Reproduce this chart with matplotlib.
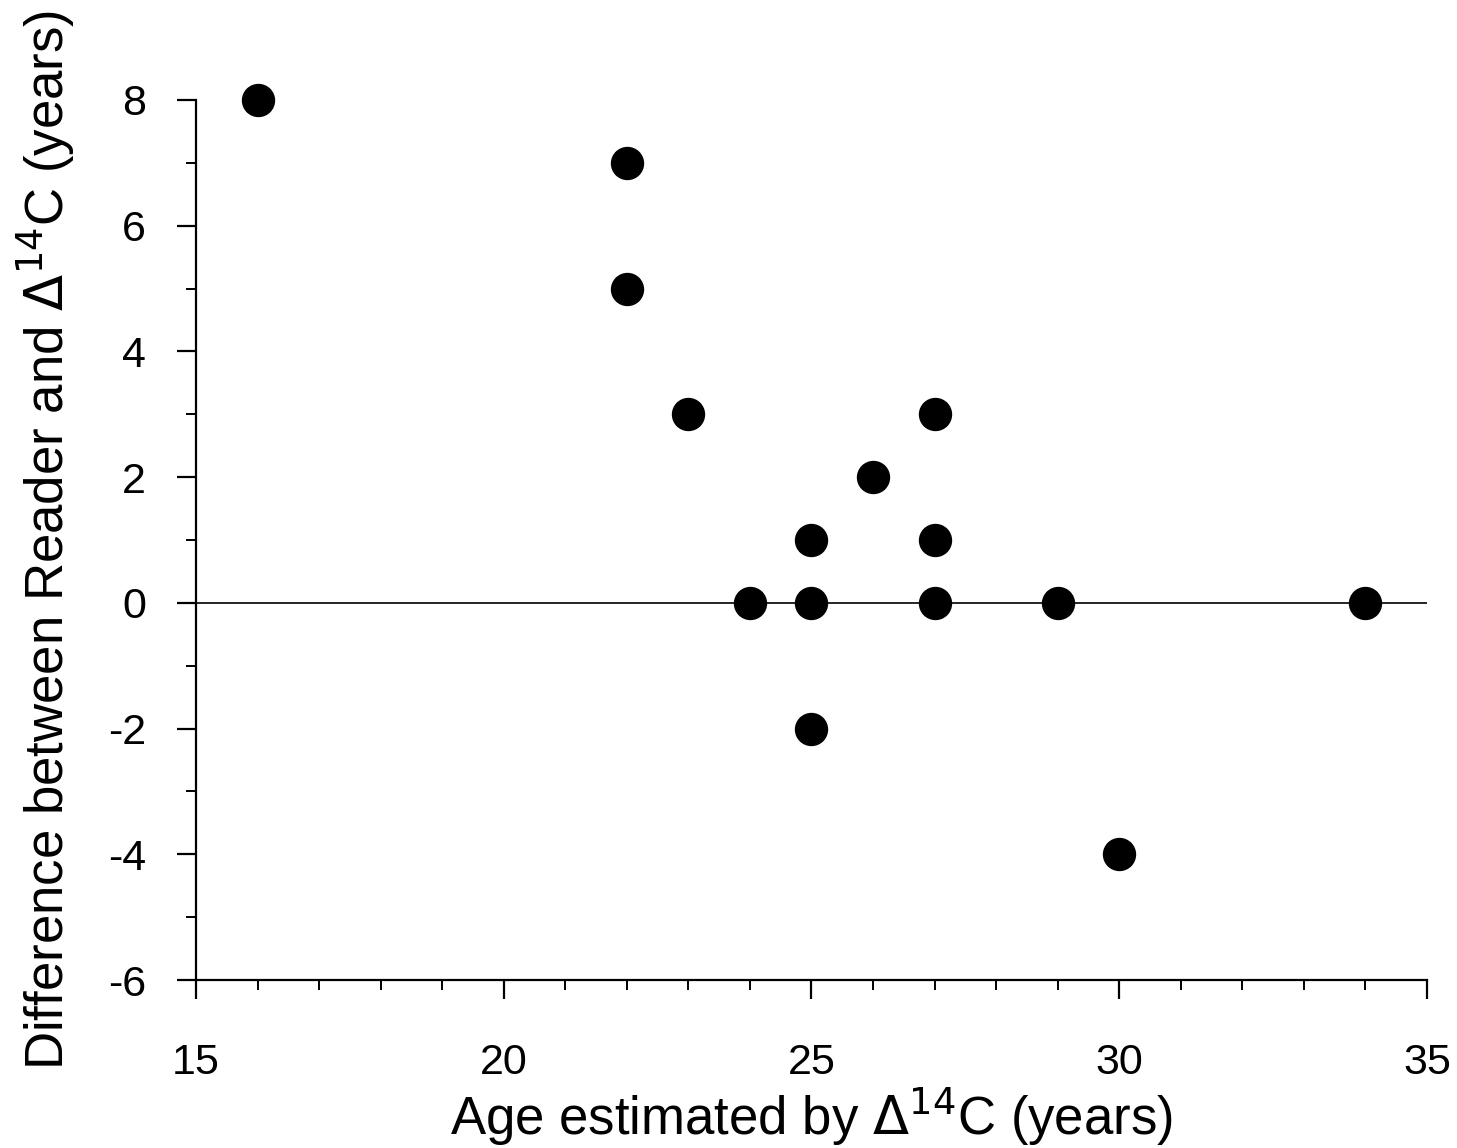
import numpy as np
from matplotlib import pyplot as plt
from matplotlib.ticker import MultipleLocator

# Age estimated by bomb radiocarbon vs. reader difference
age_c14 = [16, 22, 22, 23, 24, 25, 25, 25, 26, 27, 27, 27, 29, 30, 34]
reader_diff = [8, 7, 5, 3, 0, 1, 0, -2, 2, 3, 1, 0, 0, -4, 0]

x_ticks = [15, 20, 25, 30, 35]
y_ticks = [-6, -4, -2, 0, 2, 4, 6, 8]

plt.rcParams["font.family"] = ["Liberation Sans", "DejaVu Sans"]
plt.rcParams["axes.unicode_minus"] = False

fig = plt.figure(figsize=(14.57, 11.48), dpi=100)
ax = fig.add_axes([0.1345, 0.1463, 0.8449, 0.7666])

# Zero reference line
ax.plot([15, 35], [0, 0], c="black", lw=1.2, zorder=1)

ax.plot(
    age_c14, reader_diff, "o", c="black", markersize=23, clip_on=False, zorder=3
)

ax.set_xlim(15, 35)
ax.set_ylim(-6, 8)
ax.set_xticks(x_ticks)
ax.set_yticks(y_ticks)
ax.set_yticklabels([str(v) for v in y_ticks])
ax.xaxis.set_minor_locator(MultipleLocator(1))
ax.yaxis.set_minor_locator(MultipleLocator(1))

for side in ["top", "right"]:
    ax.spines[side].set_visible(False)
for side in ["left", "bottom"]:
    ax.spines[side].set_linewidth(1.6)

ax.tick_params(which="major", direction="out", length=14, width=1.6)
ax.tick_params(which="minor", direction="out", length=7, width=1.4)
ax.tick_params(axis="x", which="major", labelsize=31, pad=31)
ax.tick_params(axis="y", which="major", labelsize=31, pad=22)

ax.set_xlabel("Age estimated by $\\Delta^{14}$C (years)", fontsize=38, labelpad=2)
ax.set_ylabel(
    "Difference between Reader and $\\Delta^{14}$C (years)", fontsize=38, labelpad=22
)

fig.savefig("out.png", dpi=100)
